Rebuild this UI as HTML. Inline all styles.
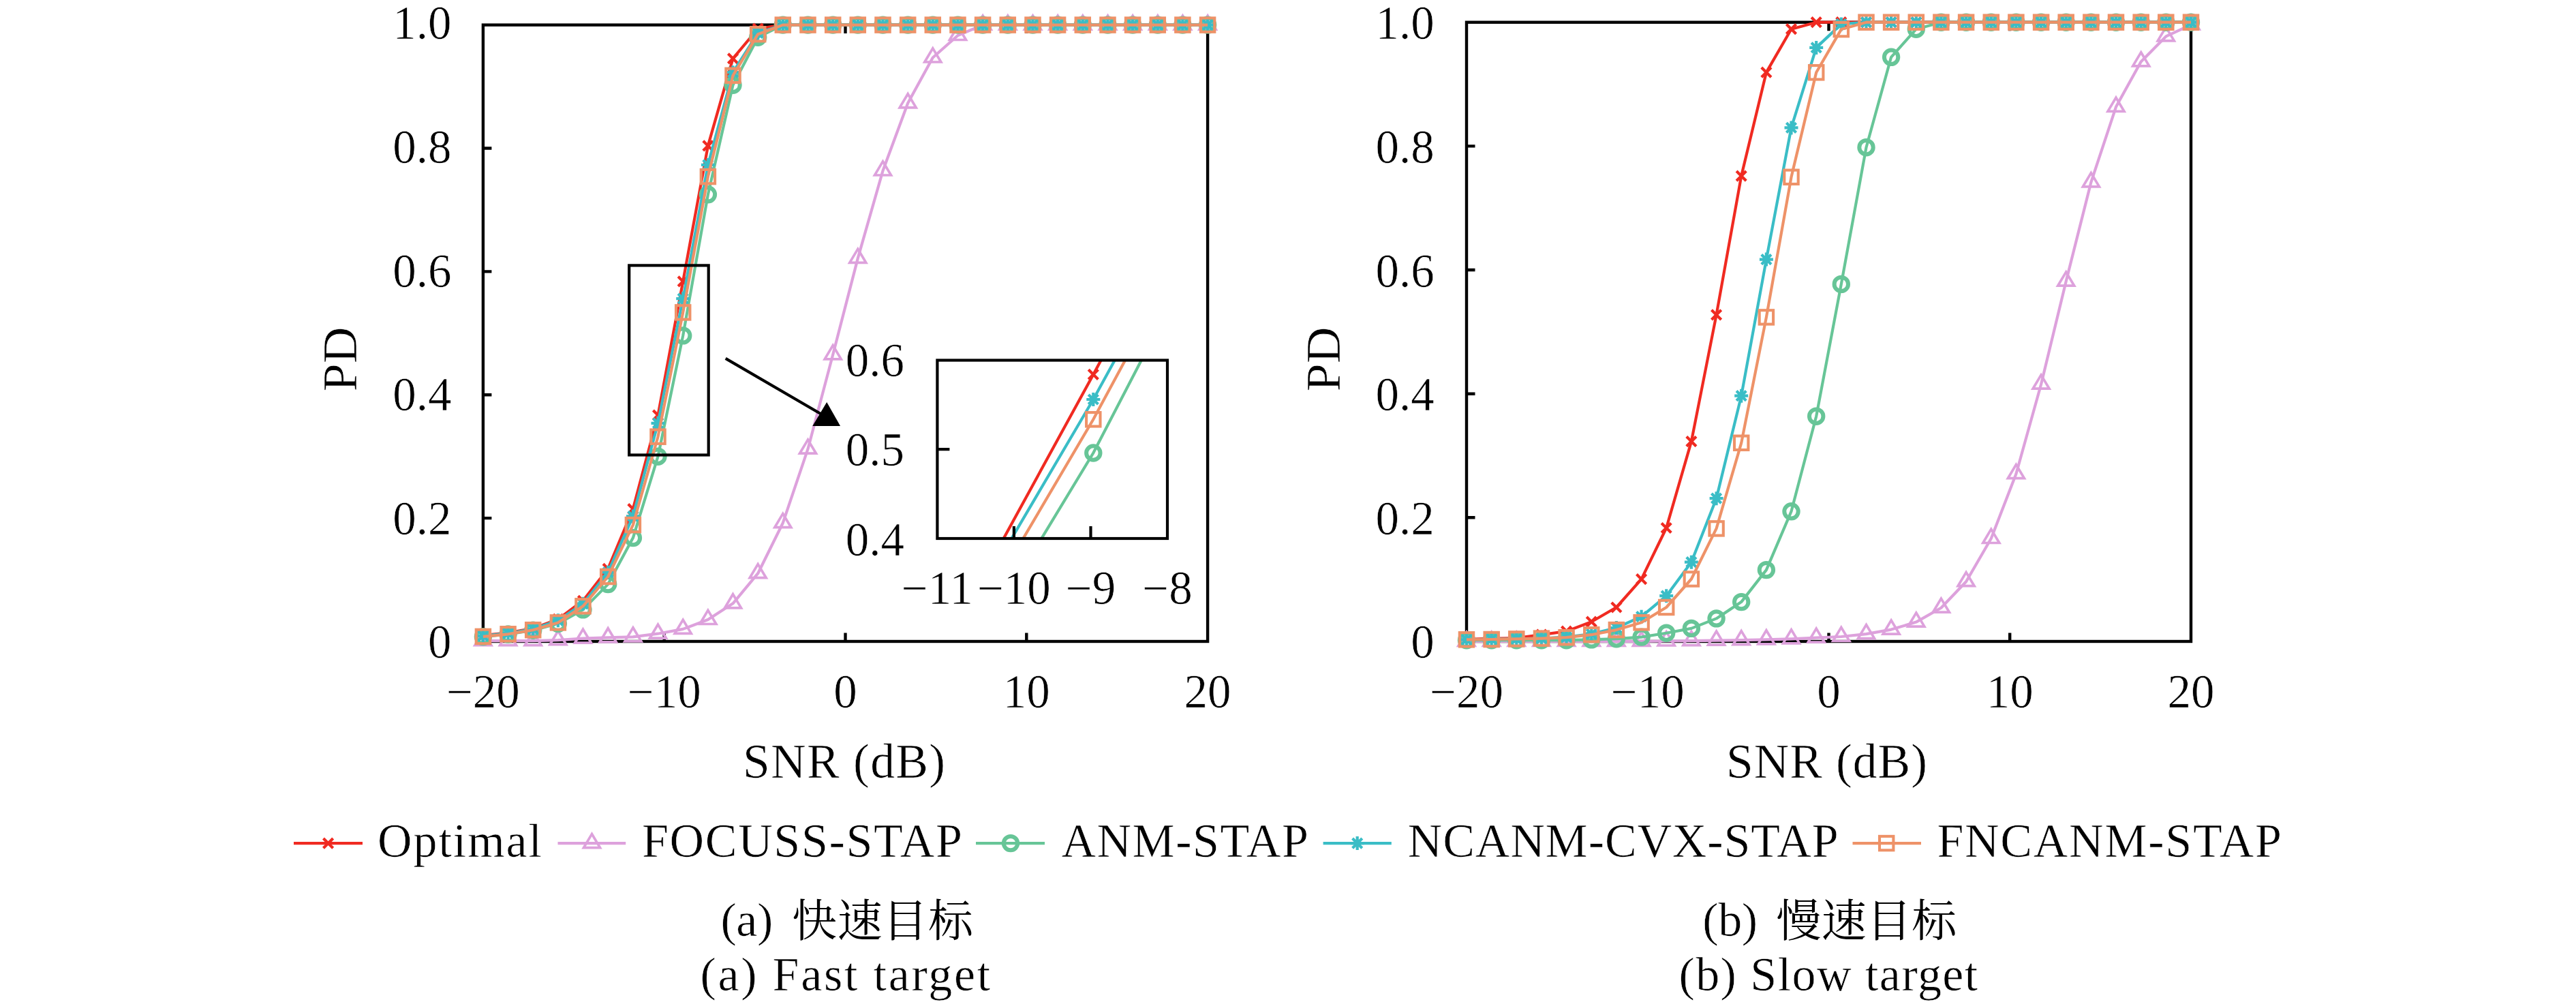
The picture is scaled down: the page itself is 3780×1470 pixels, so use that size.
<!DOCTYPE html>
<html><head><meta charset="utf-8"><title>PD vs SNR</title>
<style>html,body{margin:0;padding:0;background:#fff;}svg{display:block;}
text{font-family:"Liberation Serif","Noto Serif CJK SC",serif;fill:#000;stroke:#fff;stroke-width:0.6px;}</style></head>
<body><svg width="3780" height="1470" viewBox="0 0 3780 1470">
<rect width="3780" height="1470" fill="#fff"/>
<rect x="708.9" y="36.6" width="1063.2" height="904.4" fill="none" stroke="#000" stroke-width="4.4"/>
<path d="M974.7,941V928.5M1240.5,941V928.5M1240.5,36.6V49.1M1506.3,941V928.5M1506.3,36.6V49.1M708.9,760.1H721.4M708.9,579.2H721.4M708.9,398.4H721.4M708.9,217.5H721.4" stroke="#000" stroke-width="4.4" fill="none"/>
<polyline points="708.9,932 745.6,928.3 782.2,922 818.9,908.4 855.5,881.3 892.2,834.3 928.9,746.6 965.5,609.1 1002.2,412.8 1038.9,213.9 1075.5,85.9 1112.2,42 1148.8,36.6 1185.5,36.6 1222.2,36.6 1258.8,36.6 1295.5,36.6 1332.2,36.6 1368.8,36.6 1405.5,36.6 1442.1,36.6 1478.8,36.6 1515.5,36.6 1552.1,36.6 1588.8,36.6 1625.5,36.6 1662.1,36.6 1698.8,36.6 1735.4,36.6 1772.1,36.6" fill="none" stroke="#F02A21" stroke-width="4.2" stroke-linejoin="round"/>
<path d="M701.8,924.9L716,939.1M701.8,939.1L716,924.9" stroke="#F02A21" stroke-width="4.2" fill="none"/>
<path d="M738.5,921.2L752.7,935.4M738.5,935.4L752.7,921.2" stroke="#F02A21" stroke-width="4.2" fill="none"/>
<path d="M775.1,914.9L789.3,929.1M775.1,929.1L789.3,914.9" stroke="#F02A21" stroke-width="4.2" fill="none"/>
<path d="M811.8,901.3L826,915.5M811.8,915.5L826,901.3" stroke="#F02A21" stroke-width="4.2" fill="none"/>
<path d="M848.4,874.2L862.6,888.4M848.4,888.4L862.6,874.2" stroke="#F02A21" stroke-width="4.2" fill="none"/>
<path d="M885.1,827.2L899.3,841.4M885.1,841.4L899.3,827.2" stroke="#F02A21" stroke-width="4.2" fill="none"/>
<path d="M921.8,739.5L936,753.7M921.8,753.7L936,739.5" stroke="#F02A21" stroke-width="4.2" fill="none"/>
<path d="M958.4,602L972.6,616.2M958.4,616.2L972.6,602" stroke="#F02A21" stroke-width="4.2" fill="none"/>
<path d="M995.1,405.7L1009.3,419.9M995.1,419.9L1009.3,405.7" stroke="#F02A21" stroke-width="4.2" fill="none"/>
<path d="M1031.8,206.8L1046,221M1031.8,221L1046,206.8" stroke="#F02A21" stroke-width="4.2" fill="none"/>
<path d="M1068.4,78.8L1082.6,93M1068.4,93L1082.6,78.8" stroke="#F02A21" stroke-width="4.2" fill="none"/>
<path d="M1105.1,34.9L1119.3,49.1M1105.1,49.1L1119.3,34.9" stroke="#F02A21" stroke-width="4.2" fill="none"/>
<path d="M1141.7,29.5L1155.9,43.7M1141.7,43.7L1155.9,29.5" stroke="#F02A21" stroke-width="4.2" fill="none"/>
<path d="M1178.4,29.5L1192.6,43.7M1178.4,43.7L1192.6,29.5" stroke="#F02A21" stroke-width="4.2" fill="none"/>
<path d="M1215.1,29.5L1229.3,43.7M1215.1,43.7L1229.3,29.5" stroke="#F02A21" stroke-width="4.2" fill="none"/>
<path d="M1251.7,29.5L1265.9,43.7M1251.7,43.7L1265.9,29.5" stroke="#F02A21" stroke-width="4.2" fill="none"/>
<path d="M1288.4,29.5L1302.6,43.7M1288.4,43.7L1302.6,29.5" stroke="#F02A21" stroke-width="4.2" fill="none"/>
<path d="M1325.1,29.5L1339.3,43.7M1325.1,43.7L1339.3,29.5" stroke="#F02A21" stroke-width="4.2" fill="none"/>
<path d="M1361.7,29.5L1375.9,43.7M1361.7,43.7L1375.9,29.5" stroke="#F02A21" stroke-width="4.2" fill="none"/>
<path d="M1398.4,29.5L1412.6,43.7M1398.4,43.7L1412.6,29.5" stroke="#F02A21" stroke-width="4.2" fill="none"/>
<path d="M1435,29.5L1449.2,43.7M1435,43.7L1449.2,29.5" stroke="#F02A21" stroke-width="4.2" fill="none"/>
<path d="M1471.7,29.5L1485.9,43.7M1471.7,43.7L1485.9,29.5" stroke="#F02A21" stroke-width="4.2" fill="none"/>
<path d="M1508.4,29.5L1522.6,43.7M1508.4,43.7L1522.6,29.5" stroke="#F02A21" stroke-width="4.2" fill="none"/>
<path d="M1545,29.5L1559.2,43.7M1545,43.7L1559.2,29.5" stroke="#F02A21" stroke-width="4.2" fill="none"/>
<path d="M1581.7,29.5L1595.9,43.7M1581.7,43.7L1595.9,29.5" stroke="#F02A21" stroke-width="4.2" fill="none"/>
<path d="M1618.4,29.5L1632.6,43.7M1618.4,43.7L1632.6,29.5" stroke="#F02A21" stroke-width="4.2" fill="none"/>
<path d="M1655,29.5L1669.2,43.7M1655,43.7L1669.2,29.5" stroke="#F02A21" stroke-width="4.2" fill="none"/>
<path d="M1691.7,29.5L1705.9,43.7M1691.7,43.7L1705.9,29.5" stroke="#F02A21" stroke-width="4.2" fill="none"/>
<path d="M1728.3,29.5L1742.5,43.7M1728.3,43.7L1742.5,29.5" stroke="#F02A21" stroke-width="4.2" fill="none"/>
<path d="M1765,29.5L1779.2,43.7M1765,43.7L1779.2,29.5" stroke="#F02A21" stroke-width="4.2" fill="none"/>
<polyline points="708.9,940.1 745.6,940.1 782.2,940.1 818.9,939.2 855.5,936.7 892.2,935.3 928.9,934.4 965.5,929.7 1002.2,922.9 1038.9,909 1075.5,885.3 1112.2,841.2 1148.8,767.2 1185.5,658.7 1222.2,520.3 1258.8,378.9 1295.5,250.5 1332.2,151.3 1368.8,84.5 1405.5,52 1442.1,36.6 1478.8,36.6 1515.5,36.6 1552.1,36.6 1588.8,36.6 1625.5,36.6 1662.1,36.6 1698.8,36.6 1735.4,36.6 1772.1,36.6" fill="none" stroke="#DDA1DC" stroke-width="4.2" stroke-linejoin="round"/>
<path d="M708.9,926.5L720.9,946.6L696.9,946.6Z" stroke="#DDA1DC" stroke-width="3.7" fill="none"/>
<path d="M745.6,926.5L757.6,946.6L733.6,946.6Z" stroke="#DDA1DC" stroke-width="3.7" fill="none"/>
<path d="M782.2,926.5L794.2,946.6L770.2,946.6Z" stroke="#DDA1DC" stroke-width="3.7" fill="none"/>
<path d="M818.9,925.6L830.9,945.7L806.9,945.7Z" stroke="#DDA1DC" stroke-width="3.7" fill="none"/>
<path d="M855.5,923.1L867.5,943.2L843.5,943.2Z" stroke="#DDA1DC" stroke-width="3.7" fill="none"/>
<path d="M892.2,921.7L904.2,941.8L880.2,941.8Z" stroke="#DDA1DC" stroke-width="3.7" fill="none"/>
<path d="M928.9,920.8L940.9,940.9L916.9,940.9Z" stroke="#DDA1DC" stroke-width="3.7" fill="none"/>
<path d="M965.5,916.1L977.5,936.2L953.5,936.2Z" stroke="#DDA1DC" stroke-width="3.7" fill="none"/>
<path d="M1002.2,909.3L1014.2,929.4L990.2,929.4Z" stroke="#DDA1DC" stroke-width="3.7" fill="none"/>
<path d="M1038.9,895.4L1050.9,915.5L1026.9,915.5Z" stroke="#DDA1DC" stroke-width="3.7" fill="none"/>
<path d="M1075.5,871.7L1087.5,891.8L1063.5,891.8Z" stroke="#DDA1DC" stroke-width="3.7" fill="none"/>
<path d="M1112.2,827.6L1124.2,847.7L1100.2,847.7Z" stroke="#DDA1DC" stroke-width="3.7" fill="none"/>
<path d="M1148.8,753.6L1160.8,773.7L1136.8,773.7Z" stroke="#DDA1DC" stroke-width="3.7" fill="none"/>
<path d="M1185.5,645.1L1197.5,665.2L1173.5,665.2Z" stroke="#DDA1DC" stroke-width="3.7" fill="none"/>
<path d="M1222.2,506.7L1234.2,526.8L1210.2,526.8Z" stroke="#DDA1DC" stroke-width="3.7" fill="none"/>
<path d="M1258.8,365.3L1270.8,385.4L1246.8,385.4Z" stroke="#DDA1DC" stroke-width="3.7" fill="none"/>
<path d="M1295.5,236.9L1307.5,257L1283.5,257Z" stroke="#DDA1DC" stroke-width="3.7" fill="none"/>
<path d="M1332.2,137.7L1344.2,157.8L1320.2,157.8Z" stroke="#DDA1DC" stroke-width="3.7" fill="none"/>
<path d="M1368.8,70.9L1380.8,91L1356.8,91Z" stroke="#DDA1DC" stroke-width="3.7" fill="none"/>
<path d="M1405.5,38.4L1417.5,58.5L1393.5,58.5Z" stroke="#DDA1DC" stroke-width="3.7" fill="none"/>
<path d="M1442.1,23L1454.1,43.1L1430.1,43.1Z" stroke="#DDA1DC" stroke-width="3.7" fill="none"/>
<path d="M1478.8,23L1490.8,43.1L1466.8,43.1Z" stroke="#DDA1DC" stroke-width="3.7" fill="none"/>
<path d="M1515.5,23L1527.5,43.1L1503.5,43.1Z" stroke="#DDA1DC" stroke-width="3.7" fill="none"/>
<path d="M1552.1,23L1564.1,43.1L1540.1,43.1Z" stroke="#DDA1DC" stroke-width="3.7" fill="none"/>
<path d="M1588.8,23L1600.8,43.1L1576.8,43.1Z" stroke="#DDA1DC" stroke-width="3.7" fill="none"/>
<path d="M1625.5,23L1637.5,43.1L1613.5,43.1Z" stroke="#DDA1DC" stroke-width="3.7" fill="none"/>
<path d="M1662.1,23L1674.1,43.1L1650.1,43.1Z" stroke="#DDA1DC" stroke-width="3.7" fill="none"/>
<path d="M1698.8,23L1710.8,43.1L1686.8,43.1Z" stroke="#DDA1DC" stroke-width="3.7" fill="none"/>
<path d="M1735.4,23L1747.4,43.1L1723.4,43.1Z" stroke="#DDA1DC" stroke-width="3.7" fill="none"/>
<path d="M1772.1,23L1784.1,43.1L1760.1,43.1Z" stroke="#DDA1DC" stroke-width="3.7" fill="none"/>
<polyline points="708.9,934.1 745.6,930.5 782.2,924.7 818.9,914.8 855.5,894.4 892.2,857.1 928.9,789.1 965.5,669.7 1002.2,492.4 1038.9,285.3 1075.5,124.7 1112.2,54.7 1148.8,36.6 1185.5,36.6 1222.2,36.6 1258.8,36.6 1295.5,36.6 1332.2,36.6 1368.8,36.6 1405.5,36.6 1442.1,36.6 1478.8,36.6 1515.5,36.6 1552.1,36.6 1588.8,36.6 1625.5,36.6 1662.1,36.6 1698.8,36.6 1735.4,36.6 1772.1,36.6" fill="none" stroke="#67C597" stroke-width="4.2" stroke-linejoin="round"/>
<circle cx="708.9" cy="934.1" r="10.2" stroke="#67C597" stroke-width="6" fill="none"/>
<circle cx="745.6" cy="930.5" r="10.2" stroke="#67C597" stroke-width="6" fill="none"/>
<circle cx="782.2" cy="924.7" r="10.2" stroke="#67C597" stroke-width="6" fill="none"/>
<circle cx="818.9" cy="914.8" r="10.2" stroke="#67C597" stroke-width="6" fill="none"/>
<circle cx="855.5" cy="894.4" r="10.2" stroke="#67C597" stroke-width="6" fill="none"/>
<circle cx="892.2" cy="857.1" r="10.2" stroke="#67C597" stroke-width="6" fill="none"/>
<circle cx="928.9" cy="789.1" r="10.2" stroke="#67C597" stroke-width="6" fill="none"/>
<circle cx="965.5" cy="669.7" r="10.2" stroke="#67C597" stroke-width="6" fill="none"/>
<circle cx="1002.2" cy="492.4" r="10.2" stroke="#67C597" stroke-width="6" fill="none"/>
<circle cx="1038.9" cy="285.3" r="10.2" stroke="#67C597" stroke-width="6" fill="none"/>
<circle cx="1075.5" cy="124.7" r="10.2" stroke="#67C597" stroke-width="6" fill="none"/>
<circle cx="1112.2" cy="54.7" r="10.2" stroke="#67C597" stroke-width="6" fill="none"/>
<circle cx="1148.8" cy="36.6" r="10.2" stroke="#67C597" stroke-width="6" fill="none"/>
<circle cx="1185.5" cy="36.6" r="10.2" stroke="#67C597" stroke-width="6" fill="none"/>
<circle cx="1222.2" cy="36.6" r="10.2" stroke="#67C597" stroke-width="6" fill="none"/>
<circle cx="1258.8" cy="36.6" r="10.2" stroke="#67C597" stroke-width="6" fill="none"/>
<circle cx="1295.5" cy="36.6" r="10.2" stroke="#67C597" stroke-width="6" fill="none"/>
<circle cx="1332.2" cy="36.6" r="10.2" stroke="#67C597" stroke-width="6" fill="none"/>
<circle cx="1368.8" cy="36.6" r="10.2" stroke="#67C597" stroke-width="6" fill="none"/>
<circle cx="1405.5" cy="36.6" r="10.2" stroke="#67C597" stroke-width="6" fill="none"/>
<circle cx="1442.1" cy="36.6" r="10.2" stroke="#67C597" stroke-width="6" fill="none"/>
<circle cx="1478.8" cy="36.6" r="10.2" stroke="#67C597" stroke-width="6" fill="none"/>
<circle cx="1515.5" cy="36.6" r="10.2" stroke="#67C597" stroke-width="6" fill="none"/>
<circle cx="1552.1" cy="36.6" r="10.2" stroke="#67C597" stroke-width="6" fill="none"/>
<circle cx="1588.8" cy="36.6" r="10.2" stroke="#67C597" stroke-width="6" fill="none"/>
<circle cx="1625.5" cy="36.6" r="10.2" stroke="#67C597" stroke-width="6" fill="none"/>
<circle cx="1662.1" cy="36.6" r="10.2" stroke="#67C597" stroke-width="6" fill="none"/>
<circle cx="1698.8" cy="36.6" r="10.2" stroke="#67C597" stroke-width="6" fill="none"/>
<circle cx="1735.4" cy="36.6" r="10.2" stroke="#67C597" stroke-width="6" fill="none"/>
<circle cx="1772.1" cy="36.6" r="10.2" stroke="#67C597" stroke-width="6" fill="none"/>
<polyline points="708.9,932.9 745.6,929.2 782.2,922.9 818.9,910.3 855.5,885.8 892.2,839.7 928.9,757.4 965.5,620.8 1002.2,438.2 1038.9,241.9 1075.5,106.2 1112.2,48.4 1148.8,36.6 1185.5,36.6 1222.2,36.6 1258.8,36.6 1295.5,36.6 1332.2,36.6 1368.8,36.6 1405.5,36.6 1442.1,36.6 1478.8,36.6 1515.5,36.6 1552.1,36.6 1588.8,36.6 1625.5,36.6 1662.1,36.6 1698.8,36.6 1735.4,36.6 1772.1,36.6" fill="none" stroke="#3ABDC6" stroke-width="4.2" stroke-linejoin="round"/>
<path d="M698.9,932.9H718.9M708.9,922.9V942.9M701.8,925.8L716,940M701.8,940L716,925.8" stroke="#3ABDC6" stroke-width="4.2" fill="none"/>
<path d="M735.6,929.2H755.6M745.6,919.2V939.2M738.5,922.1L752.7,936.3M738.5,936.3L752.7,922.1" stroke="#3ABDC6" stroke-width="4.2" fill="none"/>
<path d="M772.2,922.9H792.2M782.2,912.9V932.9M775.1,915.8L789.3,930M775.1,930L789.3,915.8" stroke="#3ABDC6" stroke-width="4.2" fill="none"/>
<path d="M808.9,910.3H828.9M818.9,900.3V920.3M811.8,903.2L826,917.4M811.8,917.4L826,903.2" stroke="#3ABDC6" stroke-width="4.2" fill="none"/>
<path d="M845.5,885.8H865.5M855.5,875.8V895.8M848.4,878.7L862.6,892.9M848.4,892.9L862.6,878.7" stroke="#3ABDC6" stroke-width="4.2" fill="none"/>
<path d="M882.2,839.7H902.2M892.2,829.7V849.7M885.1,832.6L899.3,846.8M885.1,846.8L899.3,832.6" stroke="#3ABDC6" stroke-width="4.2" fill="none"/>
<path d="M918.9,757.4H938.9M928.9,747.4V767.4M921.8,750.3L936,764.5M921.8,764.5L936,750.3" stroke="#3ABDC6" stroke-width="4.2" fill="none"/>
<path d="M955.5,620.8H975.5M965.5,610.8V630.8M958.4,613.7L972.6,627.9M958.4,627.9L972.6,613.7" stroke="#3ABDC6" stroke-width="4.2" fill="none"/>
<path d="M992.2,438.2H1012.2M1002.2,428.2V448.2M995.1,431.1L1009.3,445.3M995.1,445.3L1009.3,431.1" stroke="#3ABDC6" stroke-width="4.2" fill="none"/>
<path d="M1028.9,241.9H1048.9M1038.9,231.9V251.9M1031.8,234.8L1046,249M1031.8,249L1046,234.8" stroke="#3ABDC6" stroke-width="4.2" fill="none"/>
<path d="M1065.5,106.2H1085.5M1075.5,96.2V116.2M1068.4,99.1L1082.6,113.3M1068.4,113.3L1082.6,99.1" stroke="#3ABDC6" stroke-width="4.2" fill="none"/>
<path d="M1102.2,48.4H1122.2M1112.2,38.4V58.4M1105.1,41.3L1119.3,55.5M1105.1,55.5L1119.3,41.3" stroke="#3ABDC6" stroke-width="4.2" fill="none"/>
<path d="M1138.8,36.6H1158.8M1148.8,26.6V46.6M1141.7,29.5L1155.9,43.7M1141.7,43.7L1155.9,29.5" stroke="#3ABDC6" stroke-width="4.2" fill="none"/>
<path d="M1175.5,36.6H1195.5M1185.5,26.6V46.6M1178.4,29.5L1192.6,43.7M1178.4,43.7L1192.6,29.5" stroke="#3ABDC6" stroke-width="4.2" fill="none"/>
<path d="M1212.2,36.6H1232.2M1222.2,26.6V46.6M1215.1,29.5L1229.3,43.7M1215.1,43.7L1229.3,29.5" stroke="#3ABDC6" stroke-width="4.2" fill="none"/>
<path d="M1248.8,36.6H1268.8M1258.8,26.6V46.6M1251.7,29.5L1265.9,43.7M1251.7,43.7L1265.9,29.5" stroke="#3ABDC6" stroke-width="4.2" fill="none"/>
<path d="M1285.5,36.6H1305.5M1295.5,26.6V46.6M1288.4,29.5L1302.6,43.7M1288.4,43.7L1302.6,29.5" stroke="#3ABDC6" stroke-width="4.2" fill="none"/>
<path d="M1322.2,36.6H1342.2M1332.2,26.6V46.6M1325.1,29.5L1339.3,43.7M1325.1,43.7L1339.3,29.5" stroke="#3ABDC6" stroke-width="4.2" fill="none"/>
<path d="M1358.8,36.6H1378.8M1368.8,26.6V46.6M1361.7,29.5L1375.9,43.7M1361.7,43.7L1375.9,29.5" stroke="#3ABDC6" stroke-width="4.2" fill="none"/>
<path d="M1395.5,36.6H1415.5M1405.5,26.6V46.6M1398.4,29.5L1412.6,43.7M1398.4,43.7L1412.6,29.5" stroke="#3ABDC6" stroke-width="4.2" fill="none"/>
<path d="M1432.1,36.6H1452.1M1442.1,26.6V46.6M1435,29.5L1449.2,43.7M1435,43.7L1449.2,29.5" stroke="#3ABDC6" stroke-width="4.2" fill="none"/>
<path d="M1468.8,36.6H1488.8M1478.8,26.6V46.6M1471.7,29.5L1485.9,43.7M1471.7,43.7L1485.9,29.5" stroke="#3ABDC6" stroke-width="4.2" fill="none"/>
<path d="M1505.5,36.6H1525.5M1515.5,26.6V46.6M1508.4,29.5L1522.6,43.7M1508.4,43.7L1522.6,29.5" stroke="#3ABDC6" stroke-width="4.2" fill="none"/>
<path d="M1542.1,36.6H1562.1M1552.1,26.6V46.6M1545,29.5L1559.2,43.7M1545,43.7L1559.2,29.5" stroke="#3ABDC6" stroke-width="4.2" fill="none"/>
<path d="M1578.8,36.6H1598.8M1588.8,26.6V46.6M1581.7,29.5L1595.9,43.7M1581.7,43.7L1595.9,29.5" stroke="#3ABDC6" stroke-width="4.2" fill="none"/>
<path d="M1615.5,36.6H1635.5M1625.5,26.6V46.6M1618.4,29.5L1632.6,43.7M1618.4,43.7L1632.6,29.5" stroke="#3ABDC6" stroke-width="4.2" fill="none"/>
<path d="M1652.1,36.6H1672.1M1662.1,26.6V46.6M1655,29.5L1669.2,43.7M1655,43.7L1669.2,29.5" stroke="#3ABDC6" stroke-width="4.2" fill="none"/>
<path d="M1688.8,36.6H1708.8M1698.8,26.6V46.6M1691.7,29.5L1705.9,43.7M1691.7,43.7L1705.9,29.5" stroke="#3ABDC6" stroke-width="4.2" fill="none"/>
<path d="M1725.4,36.6H1745.4M1735.4,26.6V46.6M1728.3,29.5L1742.5,43.7M1728.3,43.7L1742.5,29.5" stroke="#3ABDC6" stroke-width="4.2" fill="none"/>
<path d="M1762.1,36.6H1782.1M1772.1,26.6V46.6M1765,29.5L1779.2,43.7M1765,43.7L1779.2,29.5" stroke="#3ABDC6" stroke-width="4.2" fill="none"/>
<polyline points="708.9,933.9 745.6,930.3 782.2,924.2 818.9,913.4 855.5,889.3 892.2,846 928.9,770.1 965.5,640.7 1002.2,458.4 1038.9,259.1 1075.5,110.8 1112.2,50.2 1148.8,36.6 1185.5,36.6 1222.2,36.6 1258.8,36.6 1295.5,36.6 1332.2,36.6 1368.8,36.6 1405.5,36.6 1442.1,36.6 1478.8,36.6 1515.5,36.6 1552.1,36.6 1588.8,36.6 1625.5,36.6 1662.1,36.6 1698.8,36.6 1735.4,36.6 1772.1,36.6" fill="none" stroke="#EE9268" stroke-width="4.2" stroke-linejoin="round"/>
<rect x="698.7" y="923.7" width="20.4" height="20.4" stroke="#EE9268" stroke-width="4.1" fill="none"/>
<rect x="735.4" y="920.1" width="20.4" height="20.4" stroke="#EE9268" stroke-width="4.1" fill="none"/>
<rect x="772" y="914" width="20.4" height="20.4" stroke="#EE9268" stroke-width="4.1" fill="none"/>
<rect x="808.7" y="903.2" width="20.4" height="20.4" stroke="#EE9268" stroke-width="4.1" fill="none"/>
<rect x="845.3" y="879.1" width="20.4" height="20.4" stroke="#EE9268" stroke-width="4.1" fill="none"/>
<rect x="882" y="835.8" width="20.4" height="20.4" stroke="#EE9268" stroke-width="4.1" fill="none"/>
<rect x="918.7" y="759.9" width="20.4" height="20.4" stroke="#EE9268" stroke-width="4.1" fill="none"/>
<rect x="955.3" y="630.5" width="20.4" height="20.4" stroke="#EE9268" stroke-width="4.1" fill="none"/>
<rect x="992" y="448.2" width="20.4" height="20.4" stroke="#EE9268" stroke-width="4.1" fill="none"/>
<rect x="1028.7" y="248.9" width="20.4" height="20.4" stroke="#EE9268" stroke-width="4.1" fill="none"/>
<rect x="1065.3" y="100.6" width="20.4" height="20.4" stroke="#EE9268" stroke-width="4.1" fill="none"/>
<rect x="1102" y="40" width="20.4" height="20.4" stroke="#EE9268" stroke-width="4.1" fill="none"/>
<rect x="1138.6" y="26.4" width="20.4" height="20.4" stroke="#EE9268" stroke-width="4.1" fill="none"/>
<rect x="1175.3" y="26.4" width="20.4" height="20.4" stroke="#EE9268" stroke-width="4.1" fill="none"/>
<rect x="1212" y="26.4" width="20.4" height="20.4" stroke="#EE9268" stroke-width="4.1" fill="none"/>
<rect x="1248.6" y="26.4" width="20.4" height="20.4" stroke="#EE9268" stroke-width="4.1" fill="none"/>
<rect x="1285.3" y="26.4" width="20.4" height="20.4" stroke="#EE9268" stroke-width="4.1" fill="none"/>
<rect x="1322" y="26.4" width="20.4" height="20.4" stroke="#EE9268" stroke-width="4.1" fill="none"/>
<rect x="1358.6" y="26.4" width="20.4" height="20.4" stroke="#EE9268" stroke-width="4.1" fill="none"/>
<rect x="1395.3" y="26.4" width="20.4" height="20.4" stroke="#EE9268" stroke-width="4.1" fill="none"/>
<rect x="1431.9" y="26.4" width="20.4" height="20.4" stroke="#EE9268" stroke-width="4.1" fill="none"/>
<rect x="1468.6" y="26.4" width="20.4" height="20.4" stroke="#EE9268" stroke-width="4.1" fill="none"/>
<rect x="1505.3" y="26.4" width="20.4" height="20.4" stroke="#EE9268" stroke-width="4.1" fill="none"/>
<rect x="1541.9" y="26.4" width="20.4" height="20.4" stroke="#EE9268" stroke-width="4.1" fill="none"/>
<rect x="1578.6" y="26.4" width="20.4" height="20.4" stroke="#EE9268" stroke-width="4.1" fill="none"/>
<rect x="1615.3" y="26.4" width="20.4" height="20.4" stroke="#EE9268" stroke-width="4.1" fill="none"/>
<rect x="1651.9" y="26.4" width="20.4" height="20.4" stroke="#EE9268" stroke-width="4.1" fill="none"/>
<rect x="1688.6" y="26.4" width="20.4" height="20.4" stroke="#EE9268" stroke-width="4.1" fill="none"/>
<rect x="1725.2" y="26.4" width="20.4" height="20.4" stroke="#EE9268" stroke-width="4.1" fill="none"/>
<rect x="1761.9" y="26.4" width="20.4" height="20.4" stroke="#EE9268" stroke-width="4.1" fill="none"/>
<rect x="2152" y="32.7" width="1063" height="908.3" fill="none" stroke="#000" stroke-width="4.4"/>
<path d="M2417.8,941V928.5M2683.5,941V928.5M2683.5,32.7V45.2M2949.2,941V928.5M2949.2,32.7V45.2M2152,759.3H2164.5M2152,577.7H2164.5M2152,396H2164.5M2152,214.4H2164.5" stroke="#000" stroke-width="4.4" fill="none"/>
<polyline points="2152,937.8 2188.7,936.9 2225.3,936 2262,931.2 2298.6,926.1 2335.3,912.2 2371.9,891 2408.6,849.6 2445.2,774.5 2481.9,647.6 2518.6,461.9 2555.2,258.2 2591.9,106.1 2628.5,42.7 2665.2,32.7 2701.8,32.7 2738.5,32.7 2775.1,32.7 2811.8,32.7 2848.4,32.7 2885.1,32.7 2921.8,32.7 2958.4,32.7 2995.1,32.7 3031.7,32.7 3068.4,32.7 3105,32.7 3141.7,32.7 3178.3,32.7 3215,32.7" fill="none" stroke="#F02A21" stroke-width="4.2" stroke-linejoin="round"/>
<path d="M2144.9,930.7L2159.1,944.9M2144.9,944.9L2159.1,930.7" stroke="#F02A21" stroke-width="4.2" fill="none"/>
<path d="M2181.6,929.8L2195.8,944M2181.6,944L2195.8,929.8" stroke="#F02A21" stroke-width="4.2" fill="none"/>
<path d="M2218.2,928.9L2232.4,943.1M2218.2,943.1L2232.4,928.9" stroke="#F02A21" stroke-width="4.2" fill="none"/>
<path d="M2254.9,924.1L2269.1,938.3M2254.9,938.3L2269.1,924.1" stroke="#F02A21" stroke-width="4.2" fill="none"/>
<path d="M2291.5,919L2305.7,933.2M2291.5,933.2L2305.7,919" stroke="#F02A21" stroke-width="4.2" fill="none"/>
<path d="M2328.2,905.1L2342.4,919.3M2328.2,919.3L2342.4,905.1" stroke="#F02A21" stroke-width="4.2" fill="none"/>
<path d="M2364.8,883.9L2379,898.1M2364.8,898.1L2379,883.9" stroke="#F02A21" stroke-width="4.2" fill="none"/>
<path d="M2401.5,842.5L2415.7,856.7M2401.5,856.7L2415.7,842.5" stroke="#F02A21" stroke-width="4.2" fill="none"/>
<path d="M2438.1,767.4L2452.3,781.6M2438.1,781.6L2452.3,767.4" stroke="#F02A21" stroke-width="4.2" fill="none"/>
<path d="M2474.8,640.5L2489,654.7M2474.8,654.7L2489,640.5" stroke="#F02A21" stroke-width="4.2" fill="none"/>
<path d="M2511.5,454.8L2525.7,469M2511.5,469L2525.7,454.8" stroke="#F02A21" stroke-width="4.2" fill="none"/>
<path d="M2548.1,251.1L2562.3,265.3M2548.1,265.3L2562.3,251.1" stroke="#F02A21" stroke-width="4.2" fill="none"/>
<path d="M2584.8,99L2599,113.2M2584.8,113.2L2599,99" stroke="#F02A21" stroke-width="4.2" fill="none"/>
<path d="M2621.4,35.6L2635.6,49.8M2621.4,49.8L2635.6,35.6" stroke="#F02A21" stroke-width="4.2" fill="none"/>
<path d="M2658.1,25.6L2672.3,39.8M2658.1,39.8L2672.3,25.6" stroke="#F02A21" stroke-width="4.2" fill="none"/>
<path d="M2694.7,25.6L2708.9,39.8M2694.7,39.8L2708.9,25.6" stroke="#F02A21" stroke-width="4.2" fill="none"/>
<path d="M2731.4,25.6L2745.6,39.8M2731.4,39.8L2745.6,25.6" stroke="#F02A21" stroke-width="4.2" fill="none"/>
<path d="M2768,25.6L2782.2,39.8M2768,39.8L2782.2,25.6" stroke="#F02A21" stroke-width="4.2" fill="none"/>
<path d="M2804.7,25.6L2818.9,39.8M2804.7,39.8L2818.9,25.6" stroke="#F02A21" stroke-width="4.2" fill="none"/>
<path d="M2841.3,25.6L2855.5,39.8M2841.3,39.8L2855.5,25.6" stroke="#F02A21" stroke-width="4.2" fill="none"/>
<path d="M2878,25.6L2892.2,39.8M2878,39.8L2892.2,25.6" stroke="#F02A21" stroke-width="4.2" fill="none"/>
<path d="M2914.7,25.6L2928.9,39.8M2914.7,39.8L2928.9,25.6" stroke="#F02A21" stroke-width="4.2" fill="none"/>
<path d="M2951.3,25.6L2965.5,39.8M2951.3,39.8L2965.5,25.6" stroke="#F02A21" stroke-width="4.2" fill="none"/>
<path d="M2988,25.6L3002.2,39.8M2988,39.8L3002.2,25.6" stroke="#F02A21" stroke-width="4.2" fill="none"/>
<path d="M3024.6,25.6L3038.8,39.8M3024.6,39.8L3038.8,25.6" stroke="#F02A21" stroke-width="4.2" fill="none"/>
<path d="M3061.3,25.6L3075.5,39.8M3061.3,39.8L3075.5,25.6" stroke="#F02A21" stroke-width="4.2" fill="none"/>
<path d="M3097.9,25.6L3112.1,39.8M3097.9,39.8L3112.1,25.6" stroke="#F02A21" stroke-width="4.2" fill="none"/>
<path d="M3134.6,25.6L3148.8,39.8M3134.6,39.8L3148.8,25.6" stroke="#F02A21" stroke-width="4.2" fill="none"/>
<path d="M3171.2,25.6L3185.4,39.8M3171.2,39.8L3185.4,25.6" stroke="#F02A21" stroke-width="4.2" fill="none"/>
<path d="M3207.9,25.6L3222.1,39.8M3207.9,39.8L3222.1,25.6" stroke="#F02A21" stroke-width="4.2" fill="none"/>
<polyline points="2152,941 2188.7,941 2225.3,941 2262,941 2298.6,941 2335.3,941 2371.9,941 2408.6,941 2445.2,940.5 2481.9,940.1 2518.6,939.6 2555.2,939.2 2591.9,938.3 2628.5,937.4 2665.2,935.7 2701.8,934 2738.5,930.1 2775.1,923.6 2811.8,912.6 2848.4,891.7 2885.1,853.2 2921.8,790 2958.4,695.2 2995.1,563.7 3031.7,412.7 3068.4,267.3 3105,156.8 3141.7,90.4 3178.3,53.4 3215,36.3" fill="none" stroke="#DDA1DC" stroke-width="4.2" stroke-linejoin="round"/>
<path d="M2152,927.4L2164,947.5L2140,947.5Z" stroke="#DDA1DC" stroke-width="3.7" fill="none"/>
<path d="M2188.7,927.4L2200.7,947.5L2176.7,947.5Z" stroke="#DDA1DC" stroke-width="3.7" fill="none"/>
<path d="M2225.3,927.4L2237.3,947.5L2213.3,947.5Z" stroke="#DDA1DC" stroke-width="3.7" fill="none"/>
<path d="M2262,927.4L2274,947.5L2250,947.5Z" stroke="#DDA1DC" stroke-width="3.7" fill="none"/>
<path d="M2298.6,927.4L2310.6,947.5L2286.6,947.5Z" stroke="#DDA1DC" stroke-width="3.7" fill="none"/>
<path d="M2335.3,927.4L2347.3,947.5L2323.3,947.5Z" stroke="#DDA1DC" stroke-width="3.7" fill="none"/>
<path d="M2371.9,927.4L2383.9,947.5L2359.9,947.5Z" stroke="#DDA1DC" stroke-width="3.7" fill="none"/>
<path d="M2408.6,927.4L2420.6,947.5L2396.6,947.5Z" stroke="#DDA1DC" stroke-width="3.7" fill="none"/>
<path d="M2445.2,926.9L2457.2,947L2433.2,947Z" stroke="#DDA1DC" stroke-width="3.7" fill="none"/>
<path d="M2481.9,926.5L2493.9,946.6L2469.9,946.6Z" stroke="#DDA1DC" stroke-width="3.7" fill="none"/>
<path d="M2518.6,926L2530.6,946.1L2506.6,946.1Z" stroke="#DDA1DC" stroke-width="3.7" fill="none"/>
<path d="M2555.2,925.6L2567.2,945.7L2543.2,945.7Z" stroke="#DDA1DC" stroke-width="3.7" fill="none"/>
<path d="M2591.9,924.7L2603.9,944.8L2579.9,944.8Z" stroke="#DDA1DC" stroke-width="3.7" fill="none"/>
<path d="M2628.5,923.8L2640.5,943.9L2616.5,943.9Z" stroke="#DDA1DC" stroke-width="3.7" fill="none"/>
<path d="M2665.2,922.1L2677.2,942.2L2653.2,942.2Z" stroke="#DDA1DC" stroke-width="3.7" fill="none"/>
<path d="M2701.8,920.4L2713.8,940.5L2689.8,940.5Z" stroke="#DDA1DC" stroke-width="3.7" fill="none"/>
<path d="M2738.5,916.5L2750.5,936.6L2726.5,936.6Z" stroke="#DDA1DC" stroke-width="3.7" fill="none"/>
<path d="M2775.1,910L2787.1,930.1L2763.1,930.1Z" stroke="#DDA1DC" stroke-width="3.7" fill="none"/>
<path d="M2811.8,899L2823.8,919.1L2799.8,919.1Z" stroke="#DDA1DC" stroke-width="3.7" fill="none"/>
<path d="M2848.4,878.1L2860.4,898.2L2836.4,898.2Z" stroke="#DDA1DC" stroke-width="3.7" fill="none"/>
<path d="M2885.1,839.6L2897.1,859.7L2873.1,859.7Z" stroke="#DDA1DC" stroke-width="3.7" fill="none"/>
<path d="M2921.8,776.4L2933.8,796.5L2909.8,796.5Z" stroke="#DDA1DC" stroke-width="3.7" fill="none"/>
<path d="M2958.4,681.6L2970.4,701.7L2946.4,701.7Z" stroke="#DDA1DC" stroke-width="3.7" fill="none"/>
<path d="M2995.1,550.1L3007.1,570.2L2983.1,570.2Z" stroke="#DDA1DC" stroke-width="3.7" fill="none"/>
<path d="M3031.7,399.1L3043.7,419.2L3019.7,419.2Z" stroke="#DDA1DC" stroke-width="3.7" fill="none"/>
<path d="M3068.4,253.7L3080.4,273.8L3056.4,273.8Z" stroke="#DDA1DC" stroke-width="3.7" fill="none"/>
<path d="M3105,143.2L3117,163.3L3093,163.3Z" stroke="#DDA1DC" stroke-width="3.7" fill="none"/>
<path d="M3141.7,76.8L3153.7,96.9L3129.7,96.9Z" stroke="#DDA1DC" stroke-width="3.7" fill="none"/>
<path d="M3178.3,39.8L3190.3,59.9L3166.3,59.9Z" stroke="#DDA1DC" stroke-width="3.7" fill="none"/>
<path d="M3215,22.7L3227,42.8L3203,42.8Z" stroke="#DDA1DC" stroke-width="3.7" fill="none"/>
<polyline points="2152,939.2 2188.7,939.2 2225.3,939.2 2262,939.2 2298.6,939.2 2335.3,938.3 2371.9,937.2 2408.6,934.6 2445.2,928.7 2481.9,921.9 2518.6,907.4 2555.2,883.1 2591.9,836.1 2628.5,750.3 2665.2,610.7 2701.8,416.9 2738.5,216.2 2775.1,83.8 2811.8,42.7 2848.4,32.7 2885.1,32.7 2921.8,32.7 2958.4,32.7 2995.1,32.7 3031.7,32.7 3068.4,32.7 3105,32.7 3141.7,32.7 3178.3,32.7 3215,32.7" fill="none" stroke="#67C597" stroke-width="4.2" stroke-linejoin="round"/>
<circle cx="2152" cy="939.2" r="10.2" stroke="#67C597" stroke-width="6" fill="none"/>
<circle cx="2188.7" cy="939.2" r="10.2" stroke="#67C597" stroke-width="6" fill="none"/>
<circle cx="2225.3" cy="939.2" r="10.2" stroke="#67C597" stroke-width="6" fill="none"/>
<circle cx="2262" cy="939.2" r="10.2" stroke="#67C597" stroke-width="6" fill="none"/>
<circle cx="2298.6" cy="939.2" r="10.2" stroke="#67C597" stroke-width="6" fill="none"/>
<circle cx="2335.3" cy="938.3" r="10.2" stroke="#67C597" stroke-width="6" fill="none"/>
<circle cx="2371.9" cy="937.2" r="10.2" stroke="#67C597" stroke-width="6" fill="none"/>
<circle cx="2408.6" cy="934.6" r="10.2" stroke="#67C597" stroke-width="6" fill="none"/>
<circle cx="2445.2" cy="928.7" r="10.2" stroke="#67C597" stroke-width="6" fill="none"/>
<circle cx="2481.9" cy="921.9" r="10.2" stroke="#67C597" stroke-width="6" fill="none"/>
<circle cx="2518.6" cy="907.4" r="10.2" stroke="#67C597" stroke-width="6" fill="none"/>
<circle cx="2555.2" cy="883.1" r="10.2" stroke="#67C597" stroke-width="6" fill="none"/>
<circle cx="2591.9" cy="836.1" r="10.2" stroke="#67C597" stroke-width="6" fill="none"/>
<circle cx="2628.5" cy="750.3" r="10.2" stroke="#67C597" stroke-width="6" fill="none"/>
<circle cx="2665.2" cy="610.7" r="10.2" stroke="#67C597" stroke-width="6" fill="none"/>
<circle cx="2701.8" cy="416.9" r="10.2" stroke="#67C597" stroke-width="6" fill="none"/>
<circle cx="2738.5" cy="216.2" r="10.2" stroke="#67C597" stroke-width="6" fill="none"/>
<circle cx="2775.1" cy="83.8" r="10.2" stroke="#67C597" stroke-width="6" fill="none"/>
<circle cx="2811.8" cy="42.7" r="10.2" stroke="#67C597" stroke-width="6" fill="none"/>
<circle cx="2848.4" cy="32.7" r="10.2" stroke="#67C597" stroke-width="6" fill="none"/>
<circle cx="2885.1" cy="32.7" r="10.2" stroke="#67C597" stroke-width="6" fill="none"/>
<circle cx="2921.8" cy="32.7" r="10.2" stroke="#67C597" stroke-width="6" fill="none"/>
<circle cx="2958.4" cy="32.7" r="10.2" stroke="#67C597" stroke-width="6" fill="none"/>
<circle cx="2995.1" cy="32.7" r="10.2" stroke="#67C597" stroke-width="6" fill="none"/>
<circle cx="3031.7" cy="32.7" r="10.2" stroke="#67C597" stroke-width="6" fill="none"/>
<circle cx="3068.4" cy="32.7" r="10.2" stroke="#67C597" stroke-width="6" fill="none"/>
<circle cx="3105" cy="32.7" r="10.2" stroke="#67C597" stroke-width="6" fill="none"/>
<circle cx="3141.7" cy="32.7" r="10.2" stroke="#67C597" stroke-width="6" fill="none"/>
<circle cx="3178.3" cy="32.7" r="10.2" stroke="#67C597" stroke-width="6" fill="none"/>
<circle cx="3215" cy="32.7" r="10.2" stroke="#67C597" stroke-width="6" fill="none"/>
<polyline points="2152,938.3 2188.7,937.8 2225.3,937.4 2262,936.5 2298.6,934.6 2335.3,930.1 2371.9,921 2408.6,904.7 2445.2,874.2 2481.9,824.7 2518.6,731.2 2555.2,580.7 2591.9,380.6 2628.5,187.4 2665.2,69.9 2701.8,35.4 2738.5,32.7 2775.1,32.7 2811.8,32.7 2848.4,32.7 2885.1,32.7 2921.8,32.7 2958.4,32.7 2995.1,32.7 3031.7,32.7 3068.4,32.7 3105,32.7 3141.7,32.7 3178.3,32.7 3215,32.7" fill="none" stroke="#3ABDC6" stroke-width="4.2" stroke-linejoin="round"/>
<path d="M2142,938.3H2162M2152,928.3V948.3M2144.9,931.2L2159.1,945.4M2144.9,945.4L2159.1,931.2" stroke="#3ABDC6" stroke-width="4.2" fill="none"/>
<path d="M2178.7,937.8H2198.7M2188.7,927.8V947.8M2181.6,930.7L2195.8,944.9M2181.6,944.9L2195.8,930.7" stroke="#3ABDC6" stroke-width="4.2" fill="none"/>
<path d="M2215.3,937.4H2235.3M2225.3,927.4V947.4M2218.2,930.3L2232.4,944.5M2218.2,944.5L2232.4,930.3" stroke="#3ABDC6" stroke-width="4.2" fill="none"/>
<path d="M2252,936.5H2272M2262,926.5V946.5M2254.9,929.4L2269.1,943.6M2254.9,943.6L2269.1,929.4" stroke="#3ABDC6" stroke-width="4.2" fill="none"/>
<path d="M2288.6,934.6H2308.6M2298.6,924.6V944.6M2291.5,927.5L2305.7,941.7M2291.5,941.7L2305.7,927.5" stroke="#3ABDC6" stroke-width="4.2" fill="none"/>
<path d="M2325.3,930.1H2345.3M2335.3,920.1V940.1M2328.2,923L2342.4,937.2M2328.2,937.2L2342.4,923" stroke="#3ABDC6" stroke-width="4.2" fill="none"/>
<path d="M2361.9,921H2381.9M2371.9,911V931M2364.8,913.9L2379,928.1M2364.8,928.1L2379,913.9" stroke="#3ABDC6" stroke-width="4.2" fill="none"/>
<path d="M2398.6,904.7H2418.6M2408.6,894.7V914.7M2401.5,897.6L2415.7,911.8M2401.5,911.8L2415.7,897.6" stroke="#3ABDC6" stroke-width="4.2" fill="none"/>
<path d="M2435.2,874.2H2455.2M2445.2,864.2V884.2M2438.1,867.1L2452.3,881.3M2438.1,881.3L2452.3,867.1" stroke="#3ABDC6" stroke-width="4.2" fill="none"/>
<path d="M2471.9,824.7H2491.9M2481.9,814.7V834.7M2474.8,817.6L2489,831.8M2474.8,831.8L2489,817.6" stroke="#3ABDC6" stroke-width="4.2" fill="none"/>
<path d="M2508.6,731.2H2528.6M2518.6,721.2V741.2M2511.5,724.1L2525.7,738.3M2511.5,738.3L2525.7,724.1" stroke="#3ABDC6" stroke-width="4.2" fill="none"/>
<path d="M2545.2,580.7H2565.2M2555.2,570.7V590.7M2548.1,573.6L2562.3,587.8M2548.1,587.8L2562.3,573.6" stroke="#3ABDC6" stroke-width="4.2" fill="none"/>
<path d="M2581.9,380.6H2601.9M2591.9,370.6V390.6M2584.8,373.5L2599,387.7M2584.8,387.7L2599,373.5" stroke="#3ABDC6" stroke-width="4.2" fill="none"/>
<path d="M2618.5,187.4H2638.5M2628.5,177.4V197.4M2621.4,180.3L2635.6,194.5M2621.4,194.5L2635.6,180.3" stroke="#3ABDC6" stroke-width="4.2" fill="none"/>
<path d="M2655.2,69.9H2675.2M2665.2,59.9V79.9M2658.1,62.8L2672.3,77M2658.1,77L2672.3,62.8" stroke="#3ABDC6" stroke-width="4.2" fill="none"/>
<path d="M2691.8,35.4H2711.8M2701.8,25.4V45.4M2694.7,28.3L2708.9,42.5M2694.7,42.5L2708.9,28.3" stroke="#3ABDC6" stroke-width="4.2" fill="none"/>
<path d="M2728.5,32.7H2748.5M2738.5,22.7V42.7M2731.4,25.6L2745.6,39.8M2731.4,39.8L2745.6,25.6" stroke="#3ABDC6" stroke-width="4.2" fill="none"/>
<path d="M2765.1,32.7H2785.1M2775.1,22.7V42.7M2768,25.6L2782.2,39.8M2768,39.8L2782.2,25.6" stroke="#3ABDC6" stroke-width="4.2" fill="none"/>
<path d="M2801.8,32.7H2821.8M2811.8,22.7V42.7M2804.7,25.6L2818.9,39.8M2804.7,39.8L2818.9,25.6" stroke="#3ABDC6" stroke-width="4.2" fill="none"/>
<path d="M2838.4,32.7H2858.4M2848.4,22.7V42.7M2841.3,25.6L2855.5,39.8M2841.3,39.8L2855.5,25.6" stroke="#3ABDC6" stroke-width="4.2" fill="none"/>
<path d="M2875.1,32.7H2895.1M2885.1,22.7V42.7M2878,25.6L2892.2,39.8M2878,39.8L2892.2,25.6" stroke="#3ABDC6" stroke-width="4.2" fill="none"/>
<path d="M2911.8,32.7H2931.8M2921.8,22.7V42.7M2914.7,25.6L2928.9,39.8M2914.7,39.8L2928.9,25.6" stroke="#3ABDC6" stroke-width="4.2" fill="none"/>
<path d="M2948.4,32.7H2968.4M2958.4,22.7V42.7M2951.3,25.6L2965.5,39.8M2951.3,39.8L2965.5,25.6" stroke="#3ABDC6" stroke-width="4.2" fill="none"/>
<path d="M2985.1,32.7H3005.1M2995.1,22.7V42.7M2988,25.6L3002.2,39.8M2988,39.8L3002.2,25.6" stroke="#3ABDC6" stroke-width="4.2" fill="none"/>
<path d="M3021.7,32.7H3041.7M3031.7,22.7V42.7M3024.6,25.6L3038.8,39.8M3024.6,39.8L3038.8,25.6" stroke="#3ABDC6" stroke-width="4.2" fill="none"/>
<path d="M3058.4,32.7H3078.4M3068.4,22.7V42.7M3061.3,25.6L3075.5,39.8M3061.3,39.8L3075.5,25.6" stroke="#3ABDC6" stroke-width="4.2" fill="none"/>
<path d="M3095,32.7H3115M3105,22.7V42.7M3097.9,25.6L3112.1,39.8M3097.9,39.8L3112.1,25.6" stroke="#3ABDC6" stroke-width="4.2" fill="none"/>
<path d="M3131.7,32.7H3151.7M3141.7,22.7V42.7M3134.6,25.6L3148.8,39.8M3134.6,39.8L3148.8,25.6" stroke="#3ABDC6" stroke-width="4.2" fill="none"/>
<path d="M3168.3,32.7H3188.3M3178.3,22.7V42.7M3171.2,25.6L3185.4,39.8M3171.2,39.8L3185.4,25.6" stroke="#3ABDC6" stroke-width="4.2" fill="none"/>
<path d="M3205,32.7H3225M3215,22.7V42.7M3207.9,25.6L3222.1,39.8M3207.9,39.8L3222.1,25.6" stroke="#3ABDC6" stroke-width="4.2" fill="none"/>
<polyline points="2152,938.3 2188.7,938 2225.3,937.4 2262,936.6 2298.6,935.2 2335.3,931.2 2371.9,924.1 2408.6,913.3 2445.2,891 2481.9,849.5 2518.6,775.4 2555.2,649.8 2591.9,465.4 2628.5,259.8 2665.2,106.3 2701.8,43.1 2738.5,32.7 2775.1,32.7 2811.8,32.7 2848.4,32.7 2885.1,32.7 2921.8,32.7 2958.4,32.7 2995.1,32.7 3031.7,32.7 3068.4,32.7 3105,32.7 3141.7,32.7 3178.3,32.7 3215,32.7" fill="none" stroke="#EE9268" stroke-width="4.2" stroke-linejoin="round"/>
<rect x="2141.8" y="928.1" width="20.4" height="20.4" stroke="#EE9268" stroke-width="4.1" fill="none"/>
<rect x="2178.5" y="927.8" width="20.4" height="20.4" stroke="#EE9268" stroke-width="4.1" fill="none"/>
<rect x="2215.1" y="927.2" width="20.4" height="20.4" stroke="#EE9268" stroke-width="4.1" fill="none"/>
<rect x="2251.8" y="926.4" width="20.4" height="20.4" stroke="#EE9268" stroke-width="4.1" fill="none"/>
<rect x="2288.4" y="925" width="20.4" height="20.4" stroke="#EE9268" stroke-width="4.1" fill="none"/>
<rect x="2325.1" y="921" width="20.4" height="20.4" stroke="#EE9268" stroke-width="4.1" fill="none"/>
<rect x="2361.7" y="913.9" width="20.4" height="20.4" stroke="#EE9268" stroke-width="4.1" fill="none"/>
<rect x="2398.4" y="903.1" width="20.4" height="20.4" stroke="#EE9268" stroke-width="4.1" fill="none"/>
<rect x="2435" y="880.8" width="20.4" height="20.4" stroke="#EE9268" stroke-width="4.1" fill="none"/>
<rect x="2471.7" y="839.3" width="20.4" height="20.4" stroke="#EE9268" stroke-width="4.1" fill="none"/>
<rect x="2508.4" y="765.2" width="20.4" height="20.4" stroke="#EE9268" stroke-width="4.1" fill="none"/>
<rect x="2545" y="639.6" width="20.4" height="20.4" stroke="#EE9268" stroke-width="4.1" fill="none"/>
<rect x="2581.7" y="455.2" width="20.4" height="20.4" stroke="#EE9268" stroke-width="4.1" fill="none"/>
<rect x="2618.3" y="249.6" width="20.4" height="20.4" stroke="#EE9268" stroke-width="4.1" fill="none"/>
<rect x="2655" y="96.1" width="20.4" height="20.4" stroke="#EE9268" stroke-width="4.1" fill="none"/>
<rect x="2691.6" y="32.9" width="20.4" height="20.4" stroke="#EE9268" stroke-width="4.1" fill="none"/>
<rect x="2728.3" y="22.5" width="20.4" height="20.4" stroke="#EE9268" stroke-width="4.1" fill="none"/>
<rect x="2764.9" y="22.5" width="20.4" height="20.4" stroke="#EE9268" stroke-width="4.1" fill="none"/>
<rect x="2801.6" y="22.5" width="20.4" height="20.4" stroke="#EE9268" stroke-width="4.1" fill="none"/>
<rect x="2838.2" y="22.5" width="20.4" height="20.4" stroke="#EE9268" stroke-width="4.1" fill="none"/>
<rect x="2874.9" y="22.5" width="20.4" height="20.4" stroke="#EE9268" stroke-width="4.1" fill="none"/>
<rect x="2911.6" y="22.5" width="20.4" height="20.4" stroke="#EE9268" stroke-width="4.1" fill="none"/>
<rect x="2948.2" y="22.5" width="20.4" height="20.4" stroke="#EE9268" stroke-width="4.1" fill="none"/>
<rect x="2984.9" y="22.5" width="20.4" height="20.4" stroke="#EE9268" stroke-width="4.1" fill="none"/>
<rect x="3021.5" y="22.5" width="20.4" height="20.4" stroke="#EE9268" stroke-width="4.1" fill="none"/>
<rect x="3058.2" y="22.5" width="20.4" height="20.4" stroke="#EE9268" stroke-width="4.1" fill="none"/>
<rect x="3094.8" y="22.5" width="20.4" height="20.4" stroke="#EE9268" stroke-width="4.1" fill="none"/>
<rect x="3131.5" y="22.5" width="20.4" height="20.4" stroke="#EE9268" stroke-width="4.1" fill="none"/>
<rect x="3168.1" y="22.5" width="20.4" height="20.4" stroke="#EE9268" stroke-width="4.1" fill="none"/>
<rect x="3204.8" y="22.5" width="20.4" height="20.4" stroke="#EE9268" stroke-width="4.1" fill="none"/>
<rect x="923.2" y="389.4" width="116.5" height="278.1" fill="none" stroke="#000" stroke-width="4.2"/><path d="M1064.7,525.9L1205,607.5" stroke="#000" stroke-width="4.2"/><path d="M1213.2,590.1L1233.1,625.1L1192.3,625.1Z" fill="#000"/>
<rect x="1375.4" y="528.5" width="337.6" height="261.5" fill="#fff" stroke="none"/>
<clipPath id="ic"><rect x="1375.4" y="528.5" width="337.6" height="261.5"/></clipPath>
<g clip-path="url(#ic)">
<polyline points="1293.9,1031.9 1449.1,833.1 1604.3,549.4 1759.6,261.8 1914.8,76.8" fill="none" stroke="#F02A21" stroke-width="4.2"/>
<polyline points="1293.9,1303.5 1449.1,1296.7 1604.3,1286.8 1759.6,1266.7 1914.8,1232.5" fill="none" stroke="#DDA1DC" stroke-width="4.2"/>
<polyline points="1293.9,1093.3 1449.1,920.8 1604.3,664.5 1759.6,365.1 1914.8,132.9" fill="none" stroke="#67C597" stroke-width="4.2"/>
<polyline points="1293.9,1047.6 1449.1,850.1 1604.3,586 1759.6,302.3 1914.8,106.2" fill="none" stroke="#3ABDC6" stroke-width="4.2"/>
<polyline points="1293.9,1065.9 1449.1,878.9 1604.3,615.3 1759.6,327.1 1914.8,112.7" fill="none" stroke="#EE9268" stroke-width="4.2"/>
</g>
<path d="M1597.2,542.3L1611.4,556.5M1597.2,556.5L1611.4,542.3" stroke="#F02A21" stroke-width="4.2" fill="none"/>
<circle cx="1604.3" cy="664.5" r="10.2" stroke="#67C597" stroke-width="6" fill="none"/>
<path d="M1594.3,586H1614.3M1604.3,576V596M1597.2,578.9L1611.4,593.1M1597.2,593.1L1611.4,578.9" stroke="#3ABDC6" stroke-width="4.2" fill="none"/>
<rect x="1594.1" y="605.1" width="20.4" height="20.4" stroke="#EE9268" stroke-width="4.1" fill="none"/>
<path d="M1375.4,659.2H1393.4M1487.9,790V772M1600.5,790V772" stroke="#000" stroke-width="4.2" fill="none"/>
<rect x="1375.4" y="528.5" width="337.6" height="261.5" fill="none" stroke="#000" stroke-width="4.2"/>
<text x="1327.1" y="552.3" text-anchor="end" font-size="69">0.6</text>
<text x="1327.1" y="683.3" text-anchor="end" font-size="69">0.5</text>
<text x="1327.1" y="815.3" text-anchor="end" font-size="69">0.4</text>
<text x="1375.4" y="885.8" text-anchor="middle" font-size="69">−11</text>
<text x="1487.9" y="885.8" text-anchor="middle" font-size="69">−10</text>
<text x="1600.5" y="885.8" text-anchor="middle" font-size="69">−9</text>
<text x="1713" y="885.8" text-anchor="middle" font-size="69">−8</text>
<g font-size="69">
<text x="662.6" y="57.3" text-anchor="end">1.0</text>
<text x="662.6" y="238.9" text-anchor="end">0.8</text>
<text x="662.6" y="420.5" text-anchor="end">0.6</text>
<text x="662.6" y="602.2" text-anchor="end">0.4</text>
<text x="662.6" y="783.8" text-anchor="end">0.2</text>
<text x="662.6" y="965.4" text-anchor="end">0</text>
<text x="2104.8" y="57.3" text-anchor="end">1.0</text>
<text x="2104.8" y="238.9" text-anchor="end">0.8</text>
<text x="2104.8" y="420.5" text-anchor="end">0.6</text>
<text x="2104.8" y="602.2" text-anchor="end">0.4</text>
<text x="2104.8" y="783.8" text-anchor="end">0.2</text>
<text x="2104.8" y="965.4" text-anchor="end">0</text>
<text x="708.9" y="1038.1" text-anchor="middle">−20</text>
<text x="974.7" y="1038.1" text-anchor="middle">−10</text>
<text x="1240.5" y="1038.1" text-anchor="middle">0</text>
<text x="1506.3" y="1038.1" text-anchor="middle">10</text>
<text x="1772.1" y="1038.1" text-anchor="middle">20</text>
<text x="2152" y="1038.1" text-anchor="middle">−20</text>
<text x="2417.8" y="1038.1" text-anchor="middle">−10</text>
<text x="2683.5" y="1038.1" text-anchor="middle">0</text>
<text x="2949.2" y="1038.1" text-anchor="middle">10</text>
<text x="3215" y="1038.1" text-anchor="middle">20</text>
</g>
<text x="1089.9" y="1141" font-size="71.5" textLength="297.2" lengthAdjust="spacing">SNR (dB)</text>
<text x="2532.9" y="1141" font-size="71.5" textLength="295.2" lengthAdjust="spacing">SNR (dB)</text>
<text transform="translate(522.9,527.1) rotate(-90)" font-size="71" text-anchor="middle" textLength="95" lengthAdjust="spacingAndGlyphs">PD</text>
<text transform="translate(1965.9,527.1) rotate(-90)" font-size="71" text-anchor="middle" textLength="95" lengthAdjust="spacingAndGlyphs">PD</text>
<path d="M431,1237.1H532" stroke="#F02A21" stroke-width="4.2"/>
<path d="M474.5,1230L488.7,1244.2M474.5,1244.2L488.7,1230" stroke="#F02A21" stroke-width="4.2" fill="none"/>
<text x="554" y="1257.2" font-size="70" textLength="241" lengthAdjust="spacing">Optimal</text>
<path d="M818.5,1237.1H918.2" stroke="#DDA1DC" stroke-width="4.2"/>
<path d="M868.5,1223.5L880.5,1243.6L856.5,1243.6Z" stroke="#DDA1DC" stroke-width="3.7" fill="none"/>
<text x="942" y="1257.2" font-size="70" textLength="470" lengthAdjust="spacing">FOCUSS-STAP</text>
<path d="M1432,1237.1H1533" stroke="#67C597" stroke-width="4.2"/>
<circle cx="1483" cy="1237.1" r="10.2" stroke="#67C597" stroke-width="6" fill="none"/>
<text x="1557.6" y="1257.2" font-size="70" textLength="362.4" lengthAdjust="spacing">ANM-STAP</text>
<path d="M1941.6,1237.1H2041.8" stroke="#3ABDC6" stroke-width="4.2"/>
<path d="M1981.7,1237.1H2001.7M1991.7,1227.1V1247.1M1984.6,1230L1998.8,1244.2M1984.6,1244.2L1998.8,1230" stroke="#3ABDC6" stroke-width="4.2" fill="none"/>
<text x="2065.8" y="1257.2" font-size="70" textLength="631.8" lengthAdjust="spacing">NCANM-CVX-STAP</text>
<path d="M2718.5,1237.1H2819" stroke="#EE9268" stroke-width="4.2"/>
<rect x="2758" y="1226.9" width="20.4" height="20.4" stroke="#EE9268" stroke-width="4.1" fill="none"/>
<text x="2842.4" y="1257.2" font-size="70" textLength="505.6" lengthAdjust="spacing">FNCANM-STAP</text>
<text x="1057.4" y="1373.2" font-size="70" textLength="77" lengthAdjust="spacing">(a)</text>
<text x="1162" y="1373.6" font-size="66" font-family="'Liberation Serif','Noto Serif CJK SC',serif" textLength="266" lengthAdjust="spacing" style="stroke:none">快速目标</text>
<text x="1027.5" y="1452.6" font-size="70" textLength="425.7" lengthAdjust="spacing">(a) Fast target</text>
<text x="2498.3" y="1373.2" font-size="70" textLength="80.7" lengthAdjust="spacing">(b)</text>
<text x="2606.6" y="1373.6" font-size="66" font-family="'Liberation Serif','Noto Serif CJK SC',serif" textLength="264.7" lengthAdjust="spacing" style="stroke:none">慢速目标</text>
<text x="2463.4" y="1452.6" font-size="70" textLength="438.9" lengthAdjust="spacing">(b) Slow target</text>
</svg></body></html>
